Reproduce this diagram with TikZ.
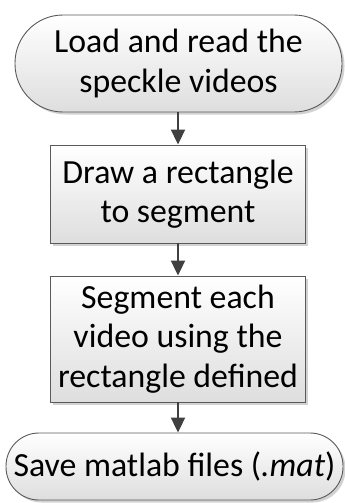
\documentclass[tikz,border=0pt]{standalone}
\usepackage{fontspec}
\setmainfont{Carlito}
\usetikzlibrary{arrows.meta,shadows}

\definecolor{edgegray}{HTML}{5A5A5A}
\definecolor{linkgray}{HTML}{404040}
\definecolor{fillbottom}{HTML}{DEDEDE}

\tikzset{
  base/.style={draw=edgegray, line width=0.9pt,
    top color=white, bottom color=fillbottom,
    drop shadow={shadow xshift=2.5pt, shadow yshift=-2.5pt, fill=black!25, opacity=0.7},
    align=center, inner sep=0pt, text=black,
    font=\fontsize{33.8}{39.5}\selectfont},
  terminal/.style={base, rounded corners=#1},
  process/.style={base},
  link/.style={draw=linkgray, line width=2pt,
    -{Triangle[width=14pt,length=15pt]}}
}

\begin{document}
\begin{tikzpicture}[x=1pt,y=-1pt]
\useasboundingbox (0,0) rectangle (345,503);

\node[terminal=48pt, minimum width=327pt, minimum height=97pt] (load)
  at (178.5,63.5) {Load and read the\\speckle videos};
\node[process, minimum width=255pt, minimum height=98pt] (draw)
  at (178,194) {Draw a rectangle\\to segment};
\node[process, minimum width=255pt, minimum height=126pt] (seg)
  at (178,339) {Segment each\\video using the\\rectangle defined};
\node[terminal=33pt, minimum width=337pt, minimum height=67pt] (save)
  at (174.5,466.5) {Save matlab files (\textit{.mat})};

\draw[link] (load.south -| draw.north) -- (draw.north);
\draw[link] (draw.south) -- (seg.north);
\draw[link] (seg.south) -- (seg.south |- save.north);
\end{tikzpicture}
\end{document}
